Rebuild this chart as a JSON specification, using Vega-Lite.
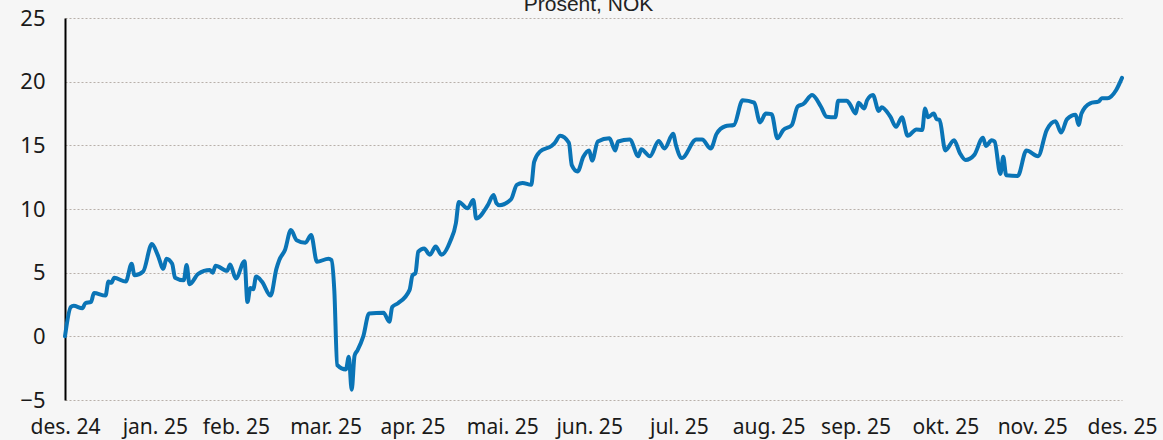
{
  "$schema": "https://vega.github.io/schema/vega-lite/v6.json",
  "width": 1057,
  "height": 382,
  "autosize": {"type": "none"},
  "padding": {"left": 65, "top": 18, "right": 41, "bottom": 40},
  "background": "#f6f6f6",
  "title": {
    "text": "Prosent, NOK",
    "font": "Liberation Sans",
    "fontSize": 21,
    "fontWeight": "normal",
    "color": "#222",
    "anchor": "middle",
    "baseline": "alphabetic",
    "offset": 0,
    "dy": 25,
    "dx": -5
  },
  "config": {
    "view": {"stroke": null},
    "axis": {"labelFont": "Noto Sans", "labelFontSize": 21, "labelColor": "#1a1a1a"}
  },
  "data": {
    "values": [
      {"date": "2024-12-31", "value": 0},
      {"date": "2025-01-02", "value": 2.3},
      {"date": "2025-01-03", "value": 2.4},
      {"date": "2025-01-06", "value": 2.2},
      {"date": "2025-01-07", "value": 2.6},
      {"date": "2025-01-09", "value": 2.7},
      {"date": "2025-01-10", "value": 3.4},
      {"date": "2025-01-14", "value": 3.2},
      {"date": "2025-01-15", "value": 4.3},
      {"date": "2025-01-16", "value": 4.2},
      {"date": "2025-01-17", "value": 4.6},
      {"date": "2025-01-21", "value": 4.3},
      {"date": "2025-01-23", "value": 5.7},
      {"date": "2025-01-24", "value": 4.8},
      {"date": "2025-01-27", "value": 5.1},
      {"date": "2025-01-30", "value": 7.25},
      {"date": "2025-02-01", "value": 6.4},
      {"date": "2025-02-03", "value": 5.3},
      {"date": "2025-02-04", "value": 6.1},
      {"date": "2025-02-06", "value": 5.7},
      {"date": "2025-02-07", "value": 4.6},
      {"date": "2025-02-10", "value": 4.4},
      {"date": "2025-02-11", "value": 5.6},
      {"date": "2025-02-12", "value": 4.1},
      {"date": "2025-02-15", "value": 4.9},
      {"date": "2025-02-19", "value": 5.2},
      {"date": "2025-02-20", "value": 5.0},
      {"date": "2025-02-21", "value": 5.55},
      {"date": "2025-02-25", "value": 5.15},
      {"date": "2025-02-26", "value": 5.65},
      {"date": "2025-02-28", "value": 4.55},
      {"date": "2025-03-03", "value": 5.9},
      {"date": "2025-03-04", "value": 2.7},
      {"date": "2025-03-05", "value": 3.8},
      {"date": "2025-03-06", "value": 3.7},
      {"date": "2025-03-07", "value": 4.7},
      {"date": "2025-03-09", "value": 4.3},
      {"date": "2025-03-12", "value": 3.2},
      {"date": "2025-03-14", "value": 5.3},
      {"date": "2025-03-15", "value": 6.0},
      {"date": "2025-03-17", "value": 6.8},
      {"date": "2025-03-19", "value": 8.35},
      {"date": "2025-03-21", "value": 7.55},
      {"date": "2025-03-24", "value": 7.35},
      {"date": "2025-03-26", "value": 7.95},
      {"date": "2025-03-28", "value": 5.85},
      {"date": "2025-04-01", "value": 6.1},
      {"date": "2025-04-02", "value": 6.0},
      {"date": "2025-04-03", "value": 3.6},
      {"date": "2025-04-04", "value": -2.25},
      {"date": "2025-04-07", "value": -2.6},
      {"date": "2025-04-08", "value": -1.6},
      {"date": "2025-04-09", "value": -4.2},
      {"date": "2025-04-10", "value": -1.5},
      {"date": "2025-04-11", "value": -1.1},
      {"date": "2025-04-13", "value": 0.0},
      {"date": "2025-04-15", "value": 1.8},
      {"date": "2025-04-20", "value": 1.85},
      {"date": "2025-04-22", "value": 1.15},
      {"date": "2025-04-23", "value": 2.3},
      {"date": "2025-04-25", "value": 2.6},
      {"date": "2025-04-29", "value": 3.65},
      {"date": "2025-04-30", "value": 4.8},
      {"date": "2025-05-01", "value": 4.95},
      {"date": "2025-05-02", "value": 6.65},
      {"date": "2025-05-04", "value": 6.9},
      {"date": "2025-05-06", "value": 6.4},
      {"date": "2025-05-08", "value": 7.05},
      {"date": "2025-05-10", "value": 6.4},
      {"date": "2025-05-13", "value": 7.45},
      {"date": "2025-05-15", "value": 8.9},
      {"date": "2025-05-16", "value": 10.55},
      {"date": "2025-05-19", "value": 10.05},
      {"date": "2025-05-21", "value": 10.7},
      {"date": "2025-05-22", "value": 9.25},
      {"date": "2025-05-26", "value": 10.3},
      {"date": "2025-05-28", "value": 11.1},
      {"date": "2025-05-29", "value": 10.45},
      {"date": "2025-05-30", "value": 10.3},
      {"date": "2025-06-03", "value": 10.75},
      {"date": "2025-06-05", "value": 11.9},
      {"date": "2025-06-07", "value": 12.05},
      {"date": "2025-06-10", "value": 11.9},
      {"date": "2025-06-11", "value": 13.7},
      {"date": "2025-06-13", "value": 14.5},
      {"date": "2025-06-17", "value": 14.95},
      {"date": "2025-06-18", "value": 15.15},
      {"date": "2025-06-20", "value": 15.75},
      {"date": "2025-06-23", "value": 15.2},
      {"date": "2025-06-24", "value": 13.45},
      {"date": "2025-06-26", "value": 12.95},
      {"date": "2025-06-28", "value": 14.1},
      {"date": "2025-06-30", "value": 14.6},
      {"date": "2025-07-01", "value": 13.8},
      {"date": "2025-07-03", "value": 15.3},
      {"date": "2025-07-07", "value": 15.55},
      {"date": "2025-07-09", "value": 14.6},
      {"date": "2025-07-10", "value": 15.3},
      {"date": "2025-07-14", "value": 15.45},
      {"date": "2025-07-17", "value": 14.15},
      {"date": "2025-07-18", "value": 14.7},
      {"date": "2025-07-21", "value": 14.15},
      {"date": "2025-07-24", "value": 15.35},
      {"date": "2025-07-26", "value": 14.75},
      {"date": "2025-07-29", "value": 15.9},
      {"date": "2025-07-30", "value": 15.0},
      {"date": "2025-08-01", "value": 14.0},
      {"date": "2025-08-06", "value": 15.45},
      {"date": "2025-08-08", "value": 15.45},
      {"date": "2025-08-11", "value": 14.75},
      {"date": "2025-08-13", "value": 15.9},
      {"date": "2025-08-16", "value": 16.5},
      {"date": "2025-08-19", "value": 16.6},
      {"date": "2025-08-22", "value": 18.55},
      {"date": "2025-08-26", "value": 18.35},
      {"date": "2025-08-28", "value": 16.8},
      {"date": "2025-08-30", "value": 17.5},
      {"date": "2025-09-01", "value": 17.45},
      {"date": "2025-09-03", "value": 15.55},
      {"date": "2025-09-05", "value": 16.2},
      {"date": "2025-09-08", "value": 16.6},
      {"date": "2025-09-10", "value": 18.05},
      {"date": "2025-09-12", "value": 18.25},
      {"date": "2025-09-15", "value": 18.95},
      {"date": "2025-09-18", "value": 18.05},
      {"date": "2025-09-20", "value": 17.25},
      {"date": "2025-09-23", "value": 17.2},
      {"date": "2025-09-24", "value": 18.5},
      {"date": "2025-09-27", "value": 18.5},
      {"date": "2025-09-28", "value": 18.25},
      {"date": "2025-09-30", "value": 17.5},
      {"date": "2025-10-01", "value": 18.35},
      {"date": "2025-10-03", "value": 17.9},
      {"date": "2025-10-04", "value": 18.55},
      {"date": "2025-10-06", "value": 18.95},
      {"date": "2025-10-08", "value": 17.7},
      {"date": "2025-10-09", "value": 18.0},
      {"date": "2025-10-12", "value": 17.25},
      {"date": "2025-10-14", "value": 16.45},
      {"date": "2025-10-16", "value": 17.2},
      {"date": "2025-10-18", "value": 15.75},
      {"date": "2025-10-21", "value": 16.25},
      {"date": "2025-10-23", "value": 16.2},
      {"date": "2025-10-24", "value": 17.9},
      {"date": "2025-10-25", "value": 17.2},
      {"date": "2025-10-27", "value": 17.5},
      {"date": "2025-10-28", "value": 17.05},
      {"date": "2025-10-29", "value": 17.0},
      {"date": "2025-10-31", "value": 14.6},
      {"date": "2025-11-03", "value": 15.4},
      {"date": "2025-11-05", "value": 14.4},
      {"date": "2025-11-07", "value": 13.85},
      {"date": "2025-11-10", "value": 14.25},
      {"date": "2025-11-13", "value": 15.6},
      {"date": "2025-11-14", "value": 14.95},
      {"date": "2025-11-16", "value": 15.4},
      {"date": "2025-11-17", "value": 15.3},
      {"date": "2025-11-19", "value": 12.75},
      {"date": "2025-11-20", "value": 14.1},
      {"date": "2025-11-21", "value": 12.65},
      {"date": "2025-11-25", "value": 12.6},
      {"date": "2025-11-28", "value": 14.6},
      {"date": "2025-12-02", "value": 14.15},
      {"date": "2025-12-05", "value": 16.2},
      {"date": "2025-12-08", "value": 16.9},
      {"date": "2025-12-10", "value": 16.0},
      {"date": "2025-12-12", "value": 17.05},
      {"date": "2025-12-15", "value": 17.4},
      {"date": "2025-12-16", "value": 16.6},
      {"date": "2025-12-17", "value": 17.5},
      {"date": "2025-12-20", "value": 18.3},
      {"date": "2025-12-23", "value": 18.45},
      {"date": "2025-12-24", "value": 18.7},
      {"date": "2025-12-26", "value": 18.7},
      {"date": "2025-12-29", "value": 19.35},
      {"date": "2025-12-31", "value": 20.3}
    ]
  },
  "encoding": {
    "x": {
      "field": "date",
      "type": "temporal",
      "scale": {
        "type": "utc",
        "domain": [
          {"year": 2024, "month": 12, "date": 31, "utc": true},
          {"year": 2025, "month": 12, "date": 31, "utc": true}
        ]
      },
      "axis": {
        "title": null,
        "grid": false,
        "domain": false,
        "ticks": false,
        "labelPadding": 16,
        "labelOverlap": false,
        "labelFlush": false,
        "values": [
          {"year": 2024, "month": 12, "date": 31, "utc": true},
          {"year": 2025, "month": 1, "date": 31, "utc": true},
          {"year": 2025, "month": 2, "date": 28, "utc": true},
          {"year": 2025, "month": 3, "date": 31, "utc": true},
          {"year": 2025, "month": 4, "date": 30, "utc": true},
          {"year": 2025, "month": 5, "date": 31, "utc": true},
          {"year": 2025, "month": 6, "date": 30, "utc": true},
          {"year": 2025, "month": 7, "date": 31, "utc": true},
          {"year": 2025, "month": 8, "date": 31, "utc": true},
          {"year": 2025, "month": 9, "date": 30, "utc": true},
          {"year": 2025, "month": 10, "date": 31, "utc": true},
          {"year": 2025, "month": 11, "date": 30, "utc": true},
          {"year": 2025, "month": 12, "date": 31, "utc": true}
        ],
        "labelExpr": "['jan','feb','mar','apr','mai','jun','jul','aug','sep','okt','nov','des'][utcmonth(datum.value)] + '. ' + utcFormat(datum.value, '%y')"
      }
    }
  },
  "layer": [
    {
      "mark": {"type": "line", "color": "#0a74b6", "strokeWidth": 4, "strokeCap": "round", "strokeJoin": "round", "interpolate": "monotone"},
      "encoding": {
        "y": {
          "field": "value",
          "type": "quantitative",
          "scale": {"domain": [-5, 25], "nice": false, "zero": false},
          "axis": {
            "title": null,
            "values": [-5, 0, 5, 10, 15, 20, 25],
            "ticks": false,
            "domainColor": "#000",
            "domainWidth": 2,
            "gridColor": "#b8b0aa",
            "gridDash": [2, 2],
            "gridWidth": 1,
            "labelPadding": 20,
            "labelDy": 3,
            "labelFontSize": 22
          }
        }
      }
    },
    {
      "mark": {"type": "rule", "color": "#000", "strokeWidth": 2},
      "encoding": {"y": {"datum": 0}}
    }
  ]
}
